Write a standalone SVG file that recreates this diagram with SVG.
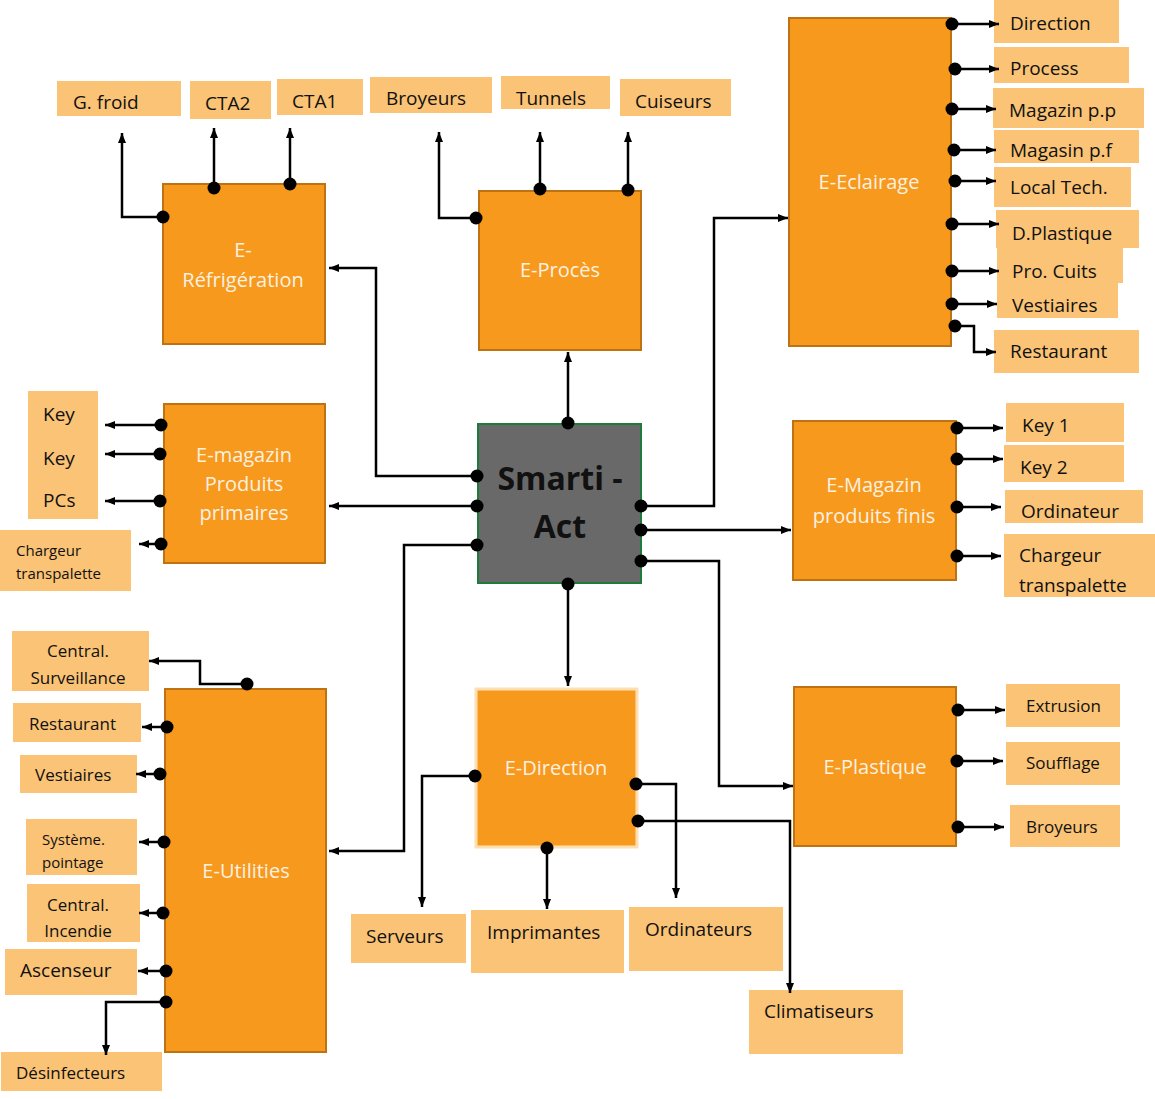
<svg xmlns="http://www.w3.org/2000/svg" width="1155" height="1099" viewBox="0 0 1155 1099">
<style>
.n{fill:#F7991C;stroke:#BF7212;stroke-width:2}
.l{fill:#FAC375}
.nt{font-family:"Open Sans","Noto Sans",sans-serif;font-size:20px;fill:#FBF1E2;text-anchor:middle}
.t{font-family:"Open Sans","Noto Sans",sans-serif;font-size:19px;fill:#111}
.s{font-size:17px}
.xs{font-size:15px}
.c{text-anchor:middle}
.e{fill:none;stroke:#000;stroke-width:2.5;marker-start:url(#dot);marker-end:url(#arr)}
.i{fill:none;stroke:#000;stroke-width:2.5;marker-end:url(#arr)}
</style>
<defs>
<marker id="arr" markerUnits="userSpaceOnUse" markerWidth="10" markerHeight="8" refX="10" refY="4" orient="auto"><path d="M0,0 L10,4 L0,8 z" fill="#000"/></marker>
<marker id="dot" markerUnits="userSpaceOnUse" markerWidth="14" markerHeight="14" refX="7" refY="7"><circle cx="7" cy="7" r="6.5" fill="#000"/></marker>
</defs>
<rect width="1155" height="1099" fill="#fff"/>

<g id="smarti-act"><rect x="478" y="424" width="163" height="159" fill="#696969" stroke="#1E7B3C" stroke-width="2"/>
<text x="560" y="490" font-family="Open Sans,Noto Sans,sans-serif" font-size="32" font-weight="bold" text-anchor="middle" fill="#111">Smarti -</text>
<text x="560" y="538" font-family="Open Sans,Noto Sans,sans-serif" font-size="32" font-weight="bold" text-anchor="middle" fill="#111">Act</text></g>

<g id="e-refrigeration"><rect class="n" x="163" y="184" width="162" height="160"/><text class="nt" x="243" y="257">E-</text><text class="nt" x="243" y="287">Réfrigération</text></g>
<g id="e-proces"><rect class="n" x="479" y="191" width="162" height="159"/><text class="nt" x="560" y="277">E-Procès</text></g>
<g id="e-eclairage"><rect class="n" x="789" y="18" width="162" height="328"/><text class="nt" x="869" y="189">E-Eclairage</text></g>
<g id="e-magazin-pp"><rect class="n" x="164" y="404" width="161" height="159"/><text class="nt" x="244" y="462">E-magazin</text><text class="nt" x="244" y="491">Produits</text><text class="nt" x="244" y="520">primaires</text></g>
<g id="e-magazin-pf"><rect class="n" x="793" y="421" width="163" height="159"/><text class="nt" x="874" y="492">E-Magazin</text><text class="nt" x="874" y="523">produits finis</text></g>
<g id="e-utilities"><rect class="n" x="165" y="689" width="161" height="363"/><text class="nt" x="246" y="878">E-Utilities</text></g>
<g id="e-direction"><rect x="476" y="689" width="161" height="158" fill="#F7991C" stroke="#FCE0B4" stroke-width="3"/><text class="nt" x="556" y="775">E-Direction</text></g>
<g id="e-plastique"><rect class="n" x="794" y="687" width="162" height="159"/><text class="nt" x="875" y="774">E-Plastique</text></g>

<g id="l-gfroid"><rect class="l" x="57" y="81" width="124" height="35"/><text class="t" x="73" y="109">G. froid</text></g>
<g id="l-cta2"><rect class="l" x="190" y="81" width="81" height="38"/><text class="t" x="205" y="110">CTA2</text></g>
<g id="l-cta1"><rect class="l" x="277" y="79" width="86" height="36"/><text class="t" x="292" y="108">CTA1</text></g>
<g id="l-broyeurs1"><rect class="l" x="370" y="77" width="122" height="36"/><text class="t" x="386" y="105">Broyeurs</text></g>
<g id="l-tunnels"><rect class="l" x="501" y="76" width="109" height="33"/><text class="t" x="516" y="105">Tunnels</text></g>
<g id="l-cuiseurs"><rect class="l" x="620" y="79" width="111" height="37"/><text class="t" x="635" y="108">Cuiseurs</text></g>

<g id="l-direction"><rect class="l" x="994" y="0" width="125" height="43"/><text class="t" x="1010" y="30">Direction</text></g>
<g id="l-process"><rect class="l" x="994" y="47" width="135" height="36"/><text class="t" x="1010" y="75">Process</text></g>
<g id="l-magazin-pp"><rect class="l" x="993" y="88" width="151" height="40"/><text class="t" x="1009" y="117">Magazin p.p</text></g>
<g id="l-magasin-pf"><rect class="l" x="994" y="130" width="145" height="33"/><text class="t" x="1010" y="157">Magasin p.f</text></g>
<g id="l-local-tech"><rect class="l" x="994" y="167" width="137" height="40"/><text class="t" x="1010" y="194">Local Tech.</text></g>
<g id="l-dplastique"><rect class="l" x="996" y="210" width="143" height="38"/><text class="t" x="1012" y="240">D.Plastique</text></g>
<g id="l-pro-cuits"><rect class="l" x="997" y="248" width="126" height="35"/><text class="t" x="1012" y="278">Pro. Cuits</text></g>
<g id="l-vestiaires1"><rect class="l" x="997" y="283" width="121" height="35"/><text class="t" x="1012" y="312">Vestiaires</text></g>
<g id="l-restaurant1"><rect class="l" x="994" y="330" width="145" height="43"/><text class="t" x="1010" y="358">Restaurant</text></g>

<g id="l-keys-pcs"><rect class="l" x="28" y="391" width="70" height="128"/><text class="t" x="43" y="421">Key</text><text class="t" x="43" y="465">Key</text><text class="t" x="43" y="507">PCs</text></g>
<g id="l-chargeur1"><rect class="l" x="0" y="530" width="131" height="61"/><text class="t xs" x="16" y="556">Chargeur</text><text class="t xs" x="16" y="579">transpalette</text></g>

<g id="l-key1"><rect class="l" x="1006" y="403" width="118" height="39"/><text class="t" x="1022" y="432">Key 1</text></g>
<g id="l-key2"><rect class="l" x="1004" y="445" width="120" height="37"/><text class="t" x="1020" y="474">Key 2</text></g>
<g id="l-ordinateur"><rect class="l" x="1005" y="490" width="138" height="33"/><text class="t" x="1021" y="518">Ordinateur</text></g>
<g id="l-chargeur2"><rect class="l" x="1004" y="534" width="151" height="63"/><text class="t" x="1019" y="562">Chargeur</text><text class="t" x="1019" y="592">transpalette</text></g>

<g id="l-surveillance"><rect class="l" x="12" y="631" width="137" height="60"/><text class="t s c" x="78" y="657">Central.</text><text class="t s c" x="78" y="684">Surveillance</text></g>
<g id="l-restaurant2"><rect class="l" x="13" y="703" width="128" height="39"/><text class="t s" x="29" y="730">Restaurant</text></g>
<g id="l-vestiaires2"><rect class="l" x="20" y="755" width="117" height="38"/><text class="t s" x="35" y="781">Vestiaires</text></g>
<g id="l-pointage"><rect class="l" x="26" y="819" width="111" height="56"/><text class="t xs" x="42" y="845">Système.</text><text class="t xs" x="42" y="868">pointage</text></g>
<g id="l-incendie"><rect class="l" x="27" y="884" width="113" height="58"/><text class="t s c" x="78" y="911">Central.</text><text class="t s c" x="78" y="937">Incendie</text></g>
<g id="l-ascenseur"><rect class="l" x="5" y="949" width="132" height="46"/><text class="t" x="20" y="977">Ascenseur</text></g>
<g id="l-desinfecteurs"><rect class="l" x="1" y="1052" width="161" height="39"/><text class="t s" x="16" y="1079">Désinfecteurs</text></g>

<g id="l-serveurs"><rect class="l" x="351" y="914" width="115" height="49"/><text class="t" x="366" y="943">Serveurs</text></g>
<g id="l-imprimantes"><rect class="l" x="471" y="910" width="153" height="63"/><text class="t" x="487" y="939">Imprimantes</text></g>
<g id="l-ordinateurs"><rect class="l" x="629" y="907" width="154" height="64"/><text class="t" x="645" y="936">Ordinateurs</text></g>
<g id="l-climatiseurs"><rect class="l" x="749" y="990" width="154" height="64"/><text class="t" x="764" y="1018">Climatiseurs</text></g>

<g id="l-extrusion"><rect class="l" x="1006" y="684" width="114" height="43"/><text class="t s" x="1026" y="712">Extrusion</text></g>
<g id="l-soufflage"><rect class="l" x="1006" y="742" width="114" height="43"/><text class="t s" x="1026" y="769">Soufflage</text></g>
<g id="l-broyeurs2"><rect class="l" x="1010" y="805" width="110" height="42"/><text class="t s" x="1026" y="833">Broyeurs</text></g>

<g id="connectors">
<path class="i" d="M568,423 V352"/>
<path class="i" d="M477,476 H376 V268 H329"/>
<path class="i" d="M477,506 H329"/>
<path class="i" d="M477,545 H404 V851 H329"/>
<path class="i" d="M641,506 H714 V218 H788"/>
<path class="i" d="M641,530 H791"/>
<path class="i" d="M641,561 H719 V786 H793"/>
<path class="i" d="M568,584 V686"/>
<g fill="#000">
<circle cx="568" cy="423" r="6.5"/><circle cx="477" cy="476" r="6.5"/><circle cx="477" cy="506" r="6.5"/><circle cx="477" cy="545" r="6.5"/>
<circle cx="641" cy="506" r="6.5"/><circle cx="641" cy="530" r="6.5"/><circle cx="641" cy="561" r="6.5"/><circle cx="568" cy="584" r="6.5"/>
</g>
<path class="e" d="M163,217 H122 V133"/>
<path class="e" d="M214,188 V128"/>
<path class="e" d="M290,184 V128"/>
<path class="e" d="M476,218 H439 V132"/>
<path class="e" d="M540,189 V132"/>
<path class="e" d="M628,190 V132"/>
<path class="e" d="M952,24 H999"/>
<path class="e" d="M955,69 H999"/>
<path class="e" d="M952,109 H996"/>
<path class="e" d="M954,150 H996"/>
<path class="e" d="M955,181 H996"/>
<path class="e" d="M952,224 H999"/>
<path class="e" d="M952,271 H999"/>
<path class="e" d="M952,304 H997"/>
<path class="e" d="M955,326 H974 V352 H996"/>
<path class="e" d="M161,425 H105"/>
<path class="e" d="M160,454 H105"/>
<path class="e" d="M160,501 H105"/>
<path class="e" d="M161,544 H139"/>
<path class="e" d="M957,428 H1003"/>
<path class="e" d="M957,459 H1003"/>
<path class="e" d="M957,507 H1001"/>
<path class="e" d="M957,556 H1001"/>
<path class="e" d="M247,684 H200 V661 H149"/>
<path class="e" d="M167,727 H142"/>
<path class="e" d="M160,774 H136"/>
<path class="e" d="M164,842 H139"/>
<path class="e" d="M163,913 H139"/>
<path class="e" d="M166,971 H138"/>
<path class="e" d="M166,1002 H106 V1055"/>
<path class="e" d="M475,776 H422 V907"/>
<path class="e" d="M547,848 V909"/>
<path class="e" d="M636,784 H676 V898"/>
<path class="e" d="M638,821 H790 V993"/>
<path class="e" d="M958,710 H1005"/>
<path class="e" d="M957,761 H1003"/>
<path class="e" d="M958,827 H1004"/>
</g>
</svg>
